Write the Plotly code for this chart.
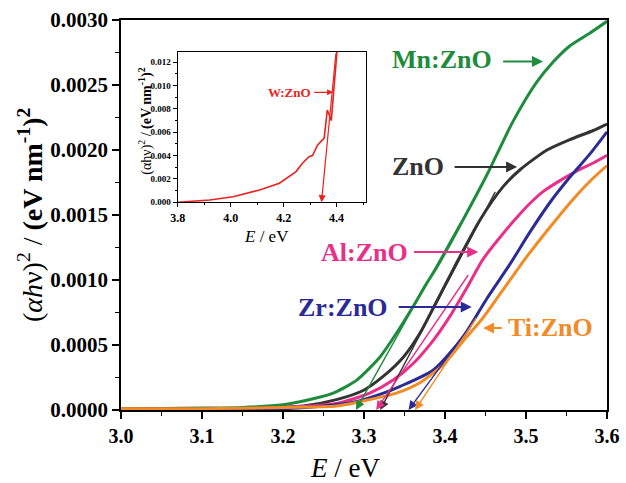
import plotly.graph_objects as go

# ---------------- data ----------------
mn_E = [3.00, 3.05, 3.10, 3.15, 3.20, 3.246, 3.262, 3.291, 3.320, 3.340, 3.361, 3.377,
        3.390, 3.422, 3.451, 3.484, 3.513, 3.534, 3.554, 3.579, 3.600]
mn_V = [0.00001, 0.000012, 0.000015, 0.00002, 0.00004, 0.0001, 0.00013, 0.00023, 0.00041,
        0.00059, 0.00080, 0.00097, 0.00110, 0.00146, 0.00180, 0.00222, 0.00252, 0.00268,
        0.00280, 0.00290, 0.00299]

zno_E = [3.00, 3.10, 3.15, 3.20, 3.225, 3.266, 3.299, 3.324, 3.349, 3.369, 3.386, 3.410,
         3.443, 3.472, 3.493, 3.526, 3.554, 3.583, 3.600]
zno_V = [0.000005, 0.000007, 0.00001, 0.00002, 0.00003, 0.00008, 0.00015, 0.00026, 0.00041,
         0.00059, 0.00079, 0.00108, 0.00146, 0.00172, 0.00185, 0.00200, 0.00208, 0.00215,
         0.00220]

al_E = [3.00, 3.10, 3.15, 3.20, 3.266, 3.307, 3.336, 3.361, 3.386, 3.406, 3.427, 3.447,
        3.472, 3.490, 3.505, 3.521, 3.546, 3.563, 3.583, 3.600]
al_V = [0.000005, 0.000007, 0.00001, 0.00002, 0.00005, 0.00013, 0.00023, 0.00036, 0.00054,
        0.00072, 0.00094, 0.00116, 0.00136, 0.00149, 0.00159, 0.00168, 0.00178, 0.00184,
        0.00190, 0.00196]

zr_E = [3.00, 3.10, 3.20, 3.25, 3.287, 3.324, 3.344, 3.386, 3.422, 3.451, 3.480, 3.505,
        3.530, 3.554, 3.579, 3.600]
zr_V = [0.000003, 0.000005, 0.00001, 0.00003, 0.00006, 0.00013, 0.00018, 0.00031, 0.00056,
        0.00085, 0.00112, 0.00137, 0.00160, 0.00179, 0.00197, 0.00214]

ti_E = [3.00, 3.10, 3.20, 3.266, 3.307, 3.340, 3.369, 3.398, 3.425, 3.447, 3.470, 3.501,
        3.530, 3.558, 3.579, 3.600]
ti_V = [0.00001, 0.00001, 0.00002, 0.00003, 0.00008, 0.00013, 0.00021, 0.00035, 0.00055,
        0.00071, 0.00091, 0.00118, 0.00141, 0.00162, 0.00176, 0.00188]

w_E = [3.80, 3.921, 4.009, 4.109, 4.184, 4.247, 4.271, 4.296, 4.309, 4.328, 4.353, 4.365,
       4.380, 4.402, 4.420]
w_V = [0.0, 0.0002, 0.00048, 0.00106, 0.00163, 0.00263, 0.00335, 0.0039, 0.0040, 0.0049,
       0.0055, 0.0079, 0.0070, 0.0130, 0.0180]

# tangent lines: x-intercept (arrow tip) and upper end
series_names = ["Mn:ZnO", "ZnO", "Al:ZnO", "Zr:ZnO", "Ti:ZnO"]
tan_x0 = [3.290, 3.320, 3.315, 3.355, 3.363]
tan_x1 = [3.420, 3.463, 3.430, 3.440, 3.440]
tan_y1 = [0.00145, 0.00169, 0.00105, 0.00072, 0.00072]
w_tan_x0, w_tan_x1, w_tan_y1 = 4.343, 4.398, 0.0129

colors = ["#1e8c3c", "#333333", "#e8308a", "#2b2b96", "#f28a26"]
w_color = "#e8231f"

main_x_ticks = [3.0, 3.1, 3.2, 3.3, 3.4, 3.5, 3.6]
main_y_ticks = [0.0, 0.0005, 0.0010, 0.0015, 0.0020, 0.0025, 0.0030]

FONT = "Liberation Serif, Times New Roman, serif"

fig = go.Figure()
for E, V, c, n in zip([mn_E, zno_E, al_E, zr_E, ti_E], [mn_V, zno_V, al_V, zr_V, ti_V],
                      colors, series_names):
    fig.add_trace(go.Scatter(x=E, y=V, mode="lines",
                             line=dict(color=c, width=3, shape="spline", smoothing=0.7),
                             name=n, xaxis="x", yaxis="y", showlegend=False))

fig.add_trace(go.Scatter(x=w_E, y=w_V, mode="lines", line=dict(color=w_color, width=1.6),
                         name="W:ZnO", xaxis="x2", yaxis="y2", showlegend=False))

ann = []
# tangent arrows (main)
for x0, x1, y1, c in zip(tan_x0, tan_x1, tan_y1, colors):
    ann.append(dict(x=x0, y=0, ax=x1, ay=y1, xref="x", yref="y", axref="x", ayref="y",
                    showarrow=True, arrowhead=2, arrowsize=1.3, arrowwidth=1.4,
                    arrowcolor=c, text=""))
# tangent arrow (inset)
ann.append(dict(x=w_tan_x0, y=0, ax=w_tan_x1, ay=w_tan_y1, xref="x2", yref="y2",
                axref="x2", ayref="y2", showarrow=True, arrowhead=2, arrowsize=1.2,
                arrowwidth=1.2, arrowcolor=w_color, text=""))

# series labels and pointer arrows
labels = [
    ("Mn:ZnO", 3.396, 0.00270, 3.470, 3.521, 0.00268),
    ("ZnO", 3.367, 0.00187, 3.410, 3.489, 0.00187),
    ("Al:ZnO", 3.301, 0.001215, 3.360, 3.441, 0.001215),
    ("Zr:ZnO", 3.274, 0.000792, 3.341, 3.433, 0.000792),
    ("Ti:ZnO", 3.530, 0.000631, 3.472, 3.447, 0.000631),
]
for (txt, tx, ty, axx, hx, hy), c in zip(labels, colors):
    ann.append(dict(x=tx, y=ty, xref="x", yref="y", text="<b>%s</b>" % txt, showarrow=False,
                    font=dict(family=FONT, size=26, color=c), xanchor="center",
                    yanchor="middle"))
    ann.append(dict(x=hx, y=hy, ax=axx, ay=hy, xref="x", yref="y", axref="x", ayref="y",
                    showarrow=True, arrowhead=2, arrowsize=1.1, arrowwidth=2,
                    arrowcolor=c, text=""))

# W:ZnO label
ann.append(dict(x=4.222, y=0.00942, xref="x2", yref="y2", text="<b>W:ZnO</b>",
                showarrow=False, font=dict(family=FONT, size=13, color=w_color)))
ann.append(dict(x=4.387, y=0.00942, ax=4.31, ay=0.00942, xref="x2", yref="y2",
                axref="x2", ayref="y2", showarrow=True, arrowhead=2, arrowsize=1,
                arrowwidth=1.2, arrowcolor=w_color, text=""))

# axis titles
ann.append(dict(x=0.461, y=-0.149, xref="paper", yref="paper",
                text="<i>E</i> / eV", showarrow=False,
                font=dict(family=FONT, size=27, color="black"),
                xanchor="center", yanchor="middle"))
ann.append(dict(x=-0.187, y=0.50, xref="paper", yref="paper", textangle=-90,
                text="(<i>αh</i>ν)<sup>2</sup> / <b>(eV nm<sup>-1</sup>)<sup>2</sup></b>",
                showarrow=False, font=dict(family=FONT, size=28, color="black"),
                xanchor="center", yanchor="middle"))
# inset titles
ann.append(dict(x=0.300, y=0.445, xref="paper", yref="paper",
                text="<i>E</i> / eV", showarrow=False,
                font=dict(family=FONT, size=17, color="black"),
                xanchor="center", yanchor="middle"))
ann.append(dict(x=0.050, y=0.74, xref="paper", yref="paper", textangle=-90,
                text="(αhν)<sup>2</sup> / <b>(eV nm<sup>-1</sup>)<sup>2</sup></b>",
                showarrow=False, font=dict(family=FONT, size=14, color="black"),
                xanchor="center", yanchor="middle"))

axis_common = dict(showline=True, linecolor="black", mirror=True, showgrid=False,
                   zeroline=False, ticks="outside", tickcolor="black", automargin=False)

fig.update_layout(
    width=626, height=483,
    margin=dict(l=121, r=19, t=20, b=73),
    paper_bgcolor="white", plot_bgcolor="white",
    font=dict(family=FONT, color="black"),
    annotations=ann,
    xaxis=dict(axis_common, range=[3.0, 3.6], tickvals=main_x_ticks, tickformat=".1f",
               linewidth=1.8, ticklen=7, tickwidth=1.5,
               tickfont=dict(family=FONT, size=20, color="black", weight="bold"),
               minor=dict(ticks="outside", ticklen=4, dtick=0.05, tickcolor="black",
                          tickwidth=1.2)),
    yaxis=dict(axis_common, range=[0, 0.0030], tickvals=main_y_ticks, tickformat=".4f",
               linewidth=1.8, ticklen=7, tickwidth=1.5,
               tickfont=dict(family=FONT, size=21, color="black", weight="bold"),
               minor=dict(ticks="outside", ticklen=4, dtick=0.00025, tickcolor="black",
                          tickwidth=1.2)),
    xaxis2=dict(axis_common, domain=[0.1167, 0.5035], anchor="y2", range=[3.8, 4.51],
                tickvals=[3.8, 4.0, 4.2, 4.4], tickformat=".1f", linewidth=1.2,
                ticklen=4, tickwidth=1,
                tickfont=dict(family=FONT, size=12, color="black", weight="bold"),
                minor=dict(ticks="outside", ticklen=2, dtick=0.1, tickcolor="black")),
    yaxis2=dict(axis_common, domain=[0.5326, 0.9187], anchor="x2", range=[0, 0.0129],
                tickvals=[0, 0.002, 0.004, 0.006, 0.008, 0.010, 0.012], tickformat=".3f",
                linewidth=1.2, ticklen=4, tickwidth=1,
                tickfont=dict(family=FONT, size=9, color="black", weight="bold"),
                minor=dict(ticks="outside", ticklen=2, dtick=0.001, tickcolor="black")),
)

fig.write_html("out.html", config={"displayModeBar": False},
               post_script="document.body.style.margin='0px';document.body.style.padding='0px';")
